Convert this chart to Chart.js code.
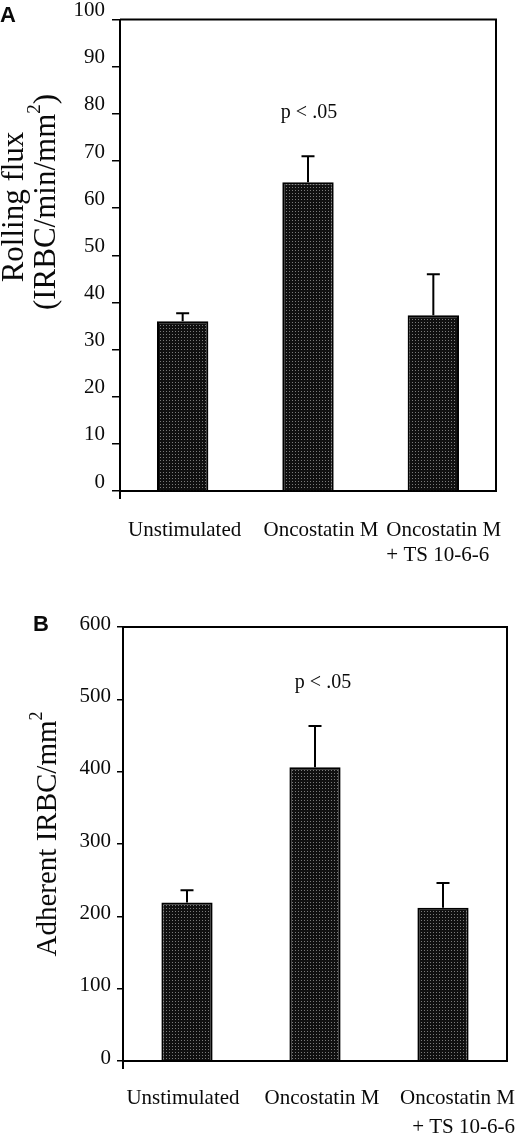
<!DOCTYPE html>
<html>
<head>
<meta charset="utf-8">
<script src="https://cdn.jsdelivr.net/npm/chart.js@4.4.1/dist/chart.umd.min.js"></script>
<style>
  html, body { margin: 0; padding: 0; background: #fff; }
  body { width: 520px; height: 1137px; position: relative; overflow: hidden; }
  canvas { position: absolute; left: 0; }
  #cA { top: 0; }
  #cB { top: 580px; }
</style>
</head>
<body>
<canvas id="cA" width="520" height="580"></canvas>
<canvas id="cB" width="520" height="557"></canvas>
<script>
// ---------- data ----------
const categories = [["Unstimulated"], ["Oncostatin M"], ["Oncostatin M", "+ TS 10-6-6"]];
const rollingFlux = [36, 65.5, 37.3];
const rollingFluxErr = [1.7, 5.5, 8.7];
const rollingTicks = [0, 10, 20, 30, 40, 50, 60, 70, 80, 90, 100];
const adherent = [219, 406, 212];
const adherentErr = [17, 57, 34];
const adherentTicks = [0, 100, 200, 300, 400, 500, 600];
const sigLabel = "p < .05";

// ---------- helpers ----------
const SERIF = '"Liberation Serif", "Times New Roman", serif';
const INK = '#0a0a0a';

function makePattern() {
  const t = document.createElement('canvas');
  t.width = 3; t.height = 3;
  const g = t.getContext('2d');
  g.fillStyle = '#101010';
  g.fillRect(0, 0, 3, 3);
  g.fillStyle = '#7a7a7a';
  g.fillRect(1, 1, 1, 1);
  return g.createPattern(t, 'repeat');
}

function errorBarPlugin(errs) {
  return {
    id: 'errbars',
    afterDatasetsDraw(chart) {
      const ctx = chart.ctx;
      const meta = chart.getDatasetMeta(0);
      const ys = chart.scales.y;
      const vals = chart.data.datasets[0].data;
      ctx.save();
      ctx.strokeStyle = '#000';
      ctx.lineWidth = 2;
      meta.data.forEach((bar, i) => {
        const top = ys.getPixelForValue(vals[i] + errs[i]);
        ctx.beginPath();
        ctx.moveTo(bar.x, bar.y);
        ctx.lineTo(bar.x, top);
        ctx.moveTo(bar.x - 6.5, top);
        ctx.lineTo(bar.x + 6.5, top);
        ctx.stroke();
      });
      ctx.restore();
    }
  };
}

function framePlugin() {
  return {
    id: 'frame',
    afterDraw(chart) {
      const a = chart.chartArea, ctx = chart.ctx;
      ctx.save();
      ctx.strokeStyle = '#000';
      ctx.lineWidth = 2;
      ctx.beginPath();
      ctx.moveTo(a.left, a.top);
      ctx.lineTo(a.right, a.top);
      ctx.lineTo(a.right, a.bottom);
      ctx.stroke();
      ctx.restore();
    }
  };
}

function textPlugin(cfg) {
  return {
    id: 'texts',
    afterDraw(chart) {
      const ctx = chart.ctx, xs = chart.scales.x;
      ctx.save();
      ctx.fillStyle = INK;
      // panel letter
      ctx.font = 'bold 22px "Liberation Sans", Arial, sans-serif';
      ctx.textAlign = 'left';
      ctx.textBaseline = 'middle';
      ctx.fillText(cfg.letter, cfg.letterX, cfg.letterY);
      // significance label
      ctx.font = '20px ' + SERIF;
      ctx.textAlign = 'center';
      ctx.fillText(sigLabel, xs.getPixelForValue(1) + cfg.sigDx, cfg.sigY);
      // category labels
      ctx.font = '21px ' + SERIF;
      categories.forEach((lines, i) => {
        const cx = xs.getPixelForValue(i) + cfg.labelDx[i];
        ctx.textAlign = cfg.labelAlign[i];
        lines.forEach((ln, j) => {
          ctx.fillText(ln, cx, cfg.labelY + j * cfg.labelLine);
        });
      });
      // y title (rotated)
      cfg.title.forEach((t) => {
        ctx.save();
        ctx.translate(t.x, t.y);
        ctx.rotate(-Math.PI / 2);
        ctx.textBaseline = 'middle';
        const mainFont = cfg.titleSize + 'px ' + SERIF;
        const supFont = Math.round(cfg.titleSize * 0.62) + 'px ' + SERIF;
        ctx.font = mainFont;
        const w1 = ctx.measureText(t.text).width;
        ctx.font = supFont;
        const w2 = t.sup ? ctx.measureText(t.sup).width : 0;
        ctx.font = mainFont;
        const w3 = t.after ? ctx.measureText(t.after).width : 0;
        let x = -(w1 + w2 + w3) / 2;
        ctx.textAlign = 'left';
        ctx.fillText(t.text, x, 0);
        x += w1;
        if (t.sup) {
          ctx.font = supFont;
          ctx.fillText(t.sup, x, -cfg.titleSize * 0.38);
          x += w2;
        }
        if (t.after) {
          ctx.font = mainFont;
          ctx.fillText(t.after, x, 0);
        }
        ctx.restore();
      });
      ctx.restore();
    }
  };
}

function makeChart(id, values, errs, ticks, opts) {
  const tickSet = ticks;
  return new Chart(document.getElementById(id), {
    type: 'bar',
    data: {
      labels: categories.map(c => c.join(' ')),
      datasets: [{
        data: values,
        backgroundColor: makePattern(),
        borderColor: '#000',
        borderWidth: 2,
        categoryPercentage: 1,
        barPercentage: opts.barPct
      }]
    },
    options: {
      responsive: false,
      animation: false,
      events: [],
      layout: { padding: { top: opts.padTop, right: opts.padRight, left: 0, bottom: 0 } },
      plugins: { legend: { display: false }, tooltip: { enabled: false } },
      scales: {
        x: {
          ticks: { display: false },
          grid: {
            drawOnChartArea: false,
            tickLength: 8,
            lineWidth: 2,
            color: (c) => (c.index === 0 ? '#000' : 'rgba(0,0,0,0)')
          },
          border: { display: true, color: '#000', width: 2 },
          afterFit: (s) => { s.height = opts.xHeight; }
        },
        y: {
          min: tickSet[0],
          max: tickSet[tickSet.length - 1],
          afterBuildTicks: (s) => { s.ticks = tickSet.map(v => ({ value: v })); },
          ticks: {
            color: INK,
            font: { family: SERIF, size: 21 },
            padding: opts.tickPad,
            labelOffset: opts.labelOffset
          },
          grid: {
            drawOnChartArea: false,
            tickLength: opts.tickLen,
            lineWidth: 1.5,
            color: '#000'
          },
          border: { display: true, color: '#000', width: 2 },
          afterFit: (s) => { s.width = opts.yWidth; }
        }
      }
    },
    plugins: [errorBarPlugin(errs), framePlugin(), textPlugin(opts.text)]
  });
}

makeChart('cA', rollingFlux, rollingFluxErr, rollingTicks, {
  barPct: 0.41, padTop: 19, padRight: 24, xHeight: 89, yWidth: 120,
  tickPad: 7, tickLen: 8, labelOffset: -9,
  text: {
    letter: 'A', letterX: 0, letterY: 16,
    sigDx: 1, sigY: 113,
    labelDx: [2, 13, -47], labelAlign: ['center', 'center', 'left'],
    labelY: 530, labelLine: 25,
    titleSize: 31,
    title: [
      { x: 15, y: 207, text: 'Rolling flux' },
      { x: 47, y: 202, text: '(IRBC/min/mm', sup: '2', after: ')' }
    ]
  }
});

makeChart('cB', adherent, adherentErr, adherentTicks, {
  barPct: 0.40, padTop: 47, padRight: 13, xHeight: 76, yWidth: 123,
  tickPad: 6, tickLen: 6, labelOffset: -3,
  text: {
    letter: 'B', letterX: 33, letterY: 45,
    sigDx: 8, sigY: 103,
    labelDx: [-4, 7, 72], labelAlign: ['center', 'center', 'right'],
    labelY: 518, labelLine: 29,
    titleSize: 29,
    title: [
      { x: 48, y: 254, text: 'Adherent IRBC/mm', sup: '2' }
    ]
  }
});
</script>
</body>
</html>
